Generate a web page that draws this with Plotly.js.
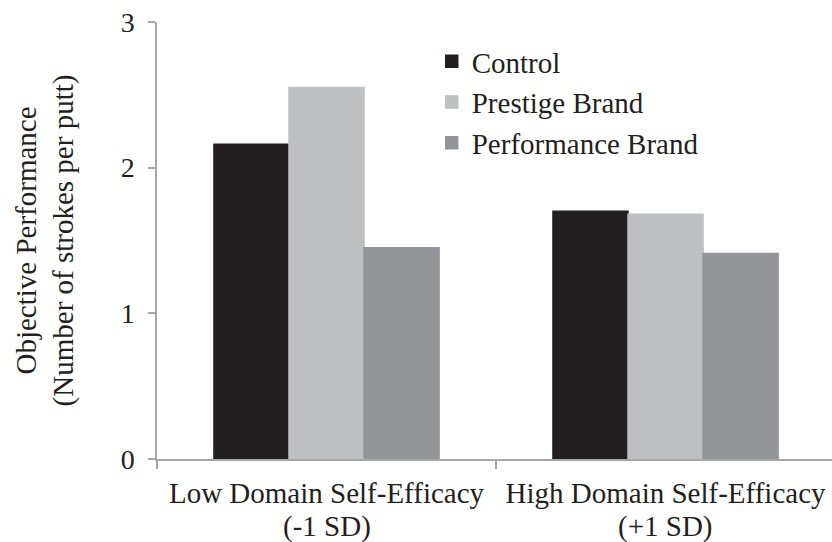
<!DOCTYPE html>
<html>
<head>
<meta charset="utf-8">
<script src="https://cdn.plot.ly/plotly-3.0.1.min.js"></script>
<style>html,body{margin:0;padding:0;background:#fff;}#chart{width:832px;height:542px;}</style>
</head>
<body>
<div id="chart"></div>
<script>
const categories = ["Low Domain Self-Efficacy", "High Domain Self-Efficacy"];
const subLabels = ["(-1 SD)", "(+1 SD)"];
const seriesNames = ["Control", "Prestige Brand", "Performance Brand"];
const control = [2.16, 1.70];
const prestige = [2.55, 1.68];
const performance = [1.45, 1.41];
const yTicks = [0, 1, 2, 3];

const colors = ["#231f20", "#bebfc1", "#939598"];
const values = [control, prestige, performance];
const FONT = '"Liberation Serif", "Times New Roman", serif';

const traces = values.map((v, i) => ({
  type: "bar",
  name: seriesNames[i],
  x: categories,
  y: v,
  marker: {color: colors[i], line: {width: 1.5, color: colors[i]}},
  legendgroup: "g" + i,
  hoverinfo: "y+name"
}));

const annotations = categories.map((c, i) => ({
  x: c, xref: "x",
  y: -0.155, yref: "paper",
  yanchor: "middle", xanchor: "center",
  text: subLabels[i],
  showarrow: false,
  font: {family: FONT, size: 29, color: "#231f20"}
}));

const layout = {
  width: 832, height: 542,
  margin: {l: 157, r: 0, t: 22, b: 83},
  paper_bgcolor: "#fff", plot_bgcolor: "#fff",
  font: {family: FONT, size: 29, color: "#231f20"},
  barmode: "group",
  bargap: 0.336,
  bargroupgap: 0,
  showlegend: true,
  annotations: annotations,
  legend: {
    x: 0.407, y: 0.968, xanchor: "left", yanchor: "top",
    bgcolor: "rgba(0,0,0,0)",
    font: {family: FONT, size: 29, color: "#231f20"},
    traceorder: "grouped",
    tracegroupgap: 0,
    itemclick: false
  },
  xaxis: {
    type: "category",
    range: [-0.5, 1.491],
    showline: true, linecolor: "#a6a6a6", linewidth: 1.5,
    showgrid: false, zeroline: false,
    ticks: "outside", ticklen: 8, tickcolor: "#a6a6a6", tickwidth: 1.5,
    tickson: "boundaries",
    ticklabelstandoff: 7,
    tickfont: {family: FONT, size: 29, color: "#231f20"},
    automargin: false,
    fixedrange: true
  },
  yaxis: {
    range: [0, 3],
    tickvals: yTicks,
    ticktext: yTicks.map(String),
    showline: true, linecolor: "#a6a6a6", linewidth: 1.5,
    showgrid: false, zeroline: false,
    ticks: "outside", ticklen: 7, tickcolor: "#a6a6a6", tickwidth: 1.5,
    ticklabelstandoff: 8,
    tickfont: {family: FONT, size: 28, color: "#231f20"},
    title: {text: "Objective Performance<br>(Number of strokes per putt)", font: {family: FONT, size: 29, color: "#231f20"}, standoff: 38},
    automargin: false,
    fixedrange: true
  }
};

Plotly.newPlot("chart", traces, layout, {displayModeBar: false});
</script>
</body>
</html>
